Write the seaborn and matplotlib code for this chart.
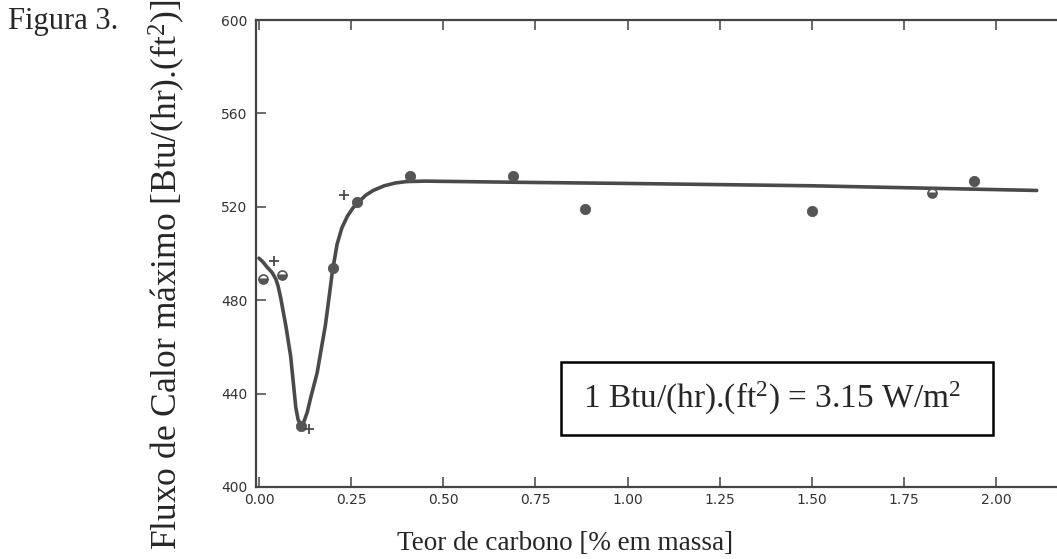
import pandas as pd
import matplotlib
matplotlib.use("Agg")
import matplotlib.pyplot as plt
from matplotlib.patches import Rectangle
import seaborn as sns

# measured points (filled circles)
carbon_filled = [0.113, 0.20, 0.267, 0.41, 0.69, 0.885, 1.50, 1.94]
flux_filled = [426, 494, 522, 533, 533, 519, 518, 531]
# half-filled circles
carbon_half = [0.01, 0.062, 1.827]
flux_half = [489, 491, 526]
# "+" points
carbon_plus = [0.04, 0.137, 0.23]
flux_plus = [497, 425, 525]
# hand-drawn trend curve
curve_x = [0.000, 0.010, 0.023, 0.035, 0.046, 0.052, 0.059, 0.066, 0.073, 0.080,
           0.086, 0.093, 0.100, 0.106, 0.113, 0.122, 0.131, 0.140, 0.158, 0.170,
           0.180, 0.190, 0.199, 0.212, 0.225, 0.240, 0.255, 0.270, 0.290, 0.310,
           0.340, 0.370, 0.400, 0.450, 0.700, 1.000, 1.500, 2.110]
curve_y = [498, 496.5, 494, 492, 489, 486, 481, 475, 469, 462,
           456, 445, 434, 429, 426.5, 428, 432, 438, 449, 460,
           469, 481, 492, 504, 511, 516, 519.5, 522, 525, 527,
           529, 530.2, 530.8, 531, 530.5, 530, 529, 527]
x_ticks = [0.00, 0.25, 0.50, 0.75, 1.00, 1.25, 1.50, 1.75, 2.00]
y_ticks = [400, 440, 480, 520, 560, 600]

sns.set_style("ticks")
plt.rcParams['font.family'] = ['Liberation Serif', 'DejaVu Serif']
plt.rcParams['mathtext.fontset'] = 'custom'
plt.rcParams['mathtext.rm'] = 'Liberation Serif'
plt.rcParams['mathtext.it'] = 'Liberation Serif:italic'

ink = '#4a4a4a'
fig = plt.figure(figsize=(10.57, 5.59), dpi=100)
ax = fig.add_axes([256 / 1057, 1 - 487 / 559, 1 - 256 / 1057, 467 / 559])

curve = pd.DataFrame({'x': curve_x, 'y': curve_y})
sns.lineplot(data=curve, x='x', y='y', ax=ax, color=ink, linewidth=2.6,
             sort=False, estimator=None)

pts = pd.DataFrame({'x': carbon_filled, 'y': flux_filled})
sns.scatterplot(data=pts, x='x', y='y', ax=ax, color='#555555', s=55,
                edgecolor='#555555', zorder=3)
ax.plot(carbon_half, flux_half, 'o', color='#555555', fillstyle='bottom',
        markersize=6.5, markeredgewidth=1.2, zorder=3)
sns.scatterplot(x=carbon_plus, y=flux_plus, ax=ax, marker='+', color=ink,
                s=60, linewidth=1.3, zorder=3)

ax.set_xlim(-0.008, 2.165)
ax.set_ylim(400, 600)
ax.set_xticks(x_ticks)
ax.set_yticks(y_ticks)
ax.set_xticklabels([f"{v:.2f}" for v in x_ticks], fontfamily='DejaVu Sans',
                   fontsize=10, color='#333333')
ax.set_yticklabels([str(v) for v in y_ticks], fontfamily='DejaVu Sans',
                   fontsize=10, color='#333333')
ax.tick_params(axis='both', direction='in', length=7, width=1.1, color='#444444')
ax.tick_params(axis='x', top=True, pad=4)
ax.tick_params(axis='y', pad=6)
for side in ['left', 'bottom', 'top']:
    ax.spines[side].set_visible(True)
    ax.spines[side].set_color('#444444')
    ax.spines[side].set_linewidth(1.6)
ax.spines['right'].set_visible(False)

ax.set_xlabel('Teor de carbono [% em massa]', fontsize=19.5)
ax.xaxis.set_label_coords(0.386, -0.095)
ax.set_ylabel('Fluxo de Calor máximo [Btu/(hr).(ft$^2$)]', fontsize=25.5)
ax.yaxis.set_label_coords(-0.086, 0.455)

# conversion note box
ax.add_patch(Rectangle((0.381, 0.111), 0.539, 0.156, transform=ax.transAxes,
                       facecolor='white', edgecolor='black', linewidth=1.8,
                       zorder=5))
ax.text(0.408, 0.19, '1 Btu/(hr).(ft$^2$) = 3.15 W/m$^2$', fontsize=24,
        va='center', ha='left', transform=ax.transAxes, zorder=6)

fig.text(0.008, 0.962, 'Figura 3.', fontsize=22, va='center', ha='left')

fig.savefig('out.png', dpi=100)
